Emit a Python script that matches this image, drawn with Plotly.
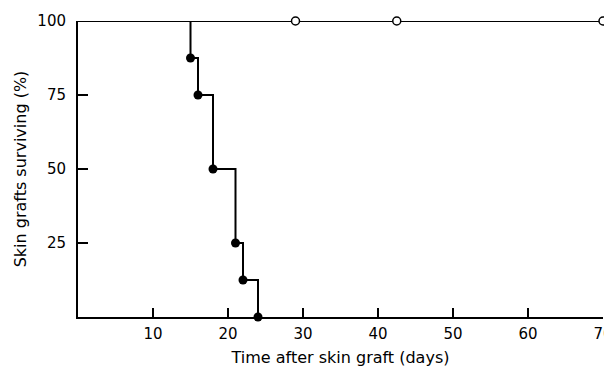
import plotly.graph_objects as go

# Treated group (filled circles): Kaplan-Meier style step data
treated_days = [0, 15, 16, 18, 21, 22, 24]
treated_surv = [100, 87.5, 75, 50, 25, 12.5, 0]

# Control group (open circles)
control_days = [0, 29, 42.5, 70]
control_surv = [100, 100, 100, 100]

x_ticks = [10, 20, 30, 40, 50, 60, 70]
y_ticks = [25, 50, 75, 100]

FONT = "DejaVu Sans"

fig = go.Figure()

# control line + open markers
fig.add_trace(go.Scatter(
    x=control_days, y=control_surv, mode="lines",
    line=dict(color="black", width=2), cliponaxis=False, showlegend=False))
fig.add_trace(go.Scatter(
    x=control_days[1:], y=control_surv[1:], mode="markers",
    marker=dict(symbol="circle", size=8, color="white",
                line=dict(color="black", width=1.5)),
    cliponaxis=False, showlegend=False))

# treated step line + filled markers
fig.add_trace(go.Scatter(
    x=treated_days, y=treated_surv, mode="lines",
    line=dict(color="black", width=2, shape="hv"),
    cliponaxis=False, showlegend=False))
fig.add_trace(go.Scatter(
    x=treated_days[1:], y=treated_surv[1:], mode="markers",
    marker=dict(symbol="circle", size=9, color="black"),
    cliponaxis=False, showlegend=False))

# margins compensate for the 8px default page margin of the html body
fig.update_layout(
    width=612, height=367,
    margin=dict(l=70, r=17, t=13, b=58, autoexpand=False),
    paper_bgcolor="white", plot_bgcolor="white",
    font=dict(family=FONT, size=15, color="black"),
    xaxis=dict(
        range=[0, 70], tickvals=x_ticks, ticktext=[str(v) for v in x_ticks],
        showline=True, linecolor="black", linewidth=2,
        ticks="inside", ticklen=9, tickwidth=1.5, tickcolor="black",
        ticklabelstandoff=2,
        showgrid=False, zeroline=False, automargin=False,
        title=dict(text="Time after skin graft (days)", font=dict(size=16), standoff=10),
    ),
    yaxis=dict(
        range=[0, 100], tickvals=y_ticks, ticktext=[str(v) for v in y_ticks],
        showline=True, linecolor="black", linewidth=2,
        ticks="inside", ticklen=10, tickwidth=1.5, tickcolor="black",
        ticklabelstandoff=7,
        showgrid=False, zeroline=False, automargin=False,
        title=dict(text="Skin grafts surviving (%)", font=dict(size=16), standoff=7),
    ),
)

fig.write_html("out.html")
